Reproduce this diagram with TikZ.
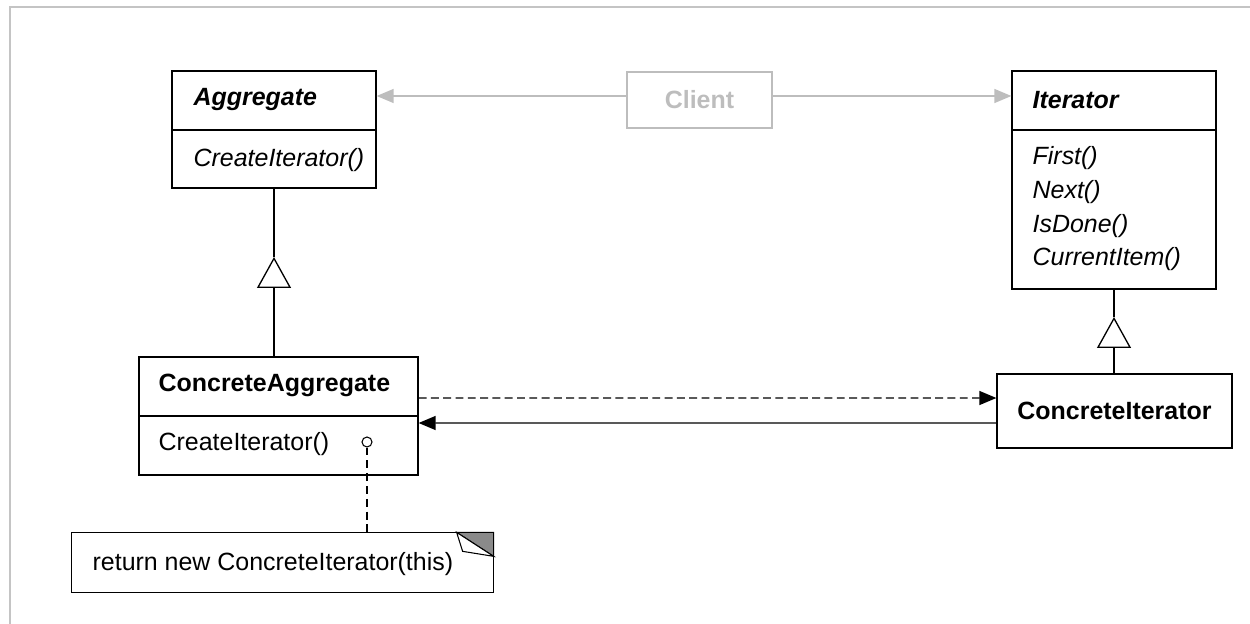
\documentclass[tikz,border=0pt]{standalone}
\usepackage{fontspec}
\setmainfont{Liberation Sans}
\usepackage{xcolor}
\usepackage{tikz}
\usetikzlibrary{arrows.meta,positioning,calc}

\definecolor{clientgray}{HTML}{BDBDBD}
\definecolor{foldgray}{HTML}{8A8A8A}
\definecolor{framegray}{HTML}{C4C4C4}
\newcommand{\umlfont}{\fontsize{14.2}{17}\selectfont}

\begin{document}
\begin{tikzpicture}[x=0.02cm, y=-0.02cm, line width=0.75pt,
    every node/.style={font=\umlfont},
    classbox/.style={draw, inner sep=0pt},
    member/.style={anchor=west, inner sep=0pt},
    classname/.style={member, font=\umlfont\bfseries\itshape},
    realize/.style={-{Triangle[length=0.62cm, width=0.68cm, fill=white]}},
    navigate/.style={-{Triangle[length=0.34cm, width=0.28cm]}},
    notelink/.style={dash pattern=on 4.5pt off 2.8pt}]
    \useasboundingbox (0,0) rectangle (1250,624);
    \draw[framegray, line width=0.6pt] (10,624) -- (10,7) -- (1250,7);

    % abstract classes
    \node[classbox, minimum width=4.08cm, minimum height=2.34cm] (agg) at (274,129.5) {};
    \draw (172,130) -- (376,130);
    \node[classname] (aggName) at (193,100) {Aggregate};
    \node[member, font=\umlfont\itshape] (aggOp) at (193,160) {CreateIterator()};

    \node[classbox, minimum width=4.08cm, minimum height=4.36cm] (it) at (1114,180) {};
    \draw (1012,130) -- (1216,130);
    \node[classname] (itName) at (1032,100) {Iterator};
    \node[member, font=\umlfont\itshape] (itFirst) at (1032,158) {First()};
    \node[member, font=\umlfont\itshape] (itNext) at (1032,192) {Next()};
    \node[member, font=\umlfont\itshape] (itDone) at (1032,226) {IsDone()};
    \node[member, font=\umlfont\itshape] (itItem) at (1032,259) {CurrentItem()};

    % client
    \node[draw=clientgray, text=clientgray, font=\umlfont\bfseries, minimum width=2.9cm, minimum height=1.12cm, inner sep=0pt] (client) at (699.5,100) {Client};
    \coordinate (cl) at ([yshift=0.08cm]client.west);
    \coordinate (cr) at ([yshift=0.08cm]client.east);
    \draw[navigate, clientgray] (cl) -- (cl -| agg.east);
    \draw[navigate, clientgray] (cr) -- (cr -| it.west);

    % concrete classes
    \node[classbox, minimum width=5.58cm, minimum height=2.36cm] (cagg) at (278.5,416) {};
    \draw (139,416) -- (418,416);
    \node[member, font=\umlfont\bfseries] (caggName) at (158,385) {ConcreteAggregate};
    \node[member] (caggOp) at (158,444) {CreateIterator()};
    \node[draw, circle, fill=white, inner sep=0pt, minimum size=0.2cm, line width=0.6pt] (retPin) at (367,442) {};

    \node[classbox, font=\umlfont\bfseries, minimum width=4.7cm, minimum height=1.48cm] (cit) at (1114.5,411) {ConcreteIterator};

    % inheritance
    \coordinate (aggTip) at (274,257);
    \draw (agg.south) -- (aggTip);
    \draw[realize] (aggTip |- cagg.north) -- (aggTip);
    \coordinate (itTip) at (1114,317);
    \draw (it.south) -- (itTip);
    \draw[realize] (itTip |- cit.north) -- (itTip);

    % associations
    \draw[navigate, dash pattern=on 4.5pt off 2.5pt] ([yshift=0.36cm]cagg.east) -- ([yshift=0.26cm]cit.west);
    \draw[navigate] ([yshift=-0.24cm]cit.west) -- ([yshift=-0.14cm]cagg.east);

    % note
    \node[inner sep=0pt, minimum width=8.42cm, minimum height=1.18cm] (note) at (282.5,562.5) {};
    \draw (note.north west) rectangle (note.south east);
    \filldraw[fill=foldgray, line width=0.6pt] ([xshift=-0.74cm]note.north east) -- (note.north east) -- ([yshift=-0.48cm]note.north east) -- cycle;
    \filldraw[fill=white, line width=0.6pt] ([xshift=-0.74cm]note.north east) -- ([xshift=-0.62cm,yshift=-0.38cm]note.north east) -- ([yshift=-0.48cm]note.north east) -- cycle;
    \node[member] (noteText) at (92,564) {return new ConcreteIterator(this)};
    \draw[notelink] (retPin) -- (retPin |- note.north);
\end{tikzpicture}
\end{document}
